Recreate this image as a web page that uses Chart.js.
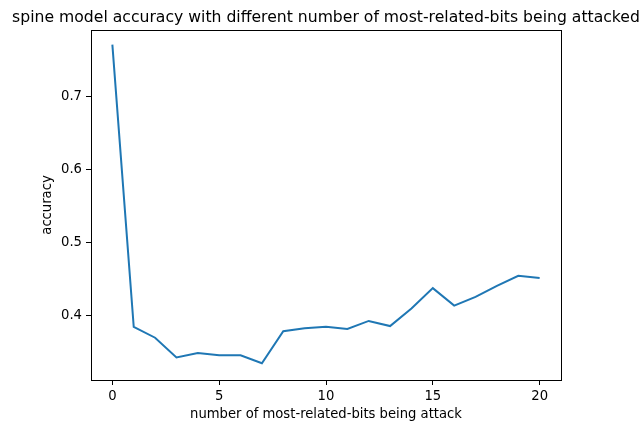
<!DOCTYPE html>
<html>
<head>
<meta charset="utf-8">
<script src="https://cdn.jsdelivr.net/npm/chart.js@4/dist/chart.umd.min.js"></script>
<style>
  html, body { margin: 0; padding: 0; background: #fff; }
  #wrap { width: 643px; height: 424px; position: relative; }
</style>
</head>
<body>
<div id="wrap"><canvas id="c" width="643" height="424"></canvas></div>
<script>
// number of most-related bits attacked
const bitsAttacked = [0, 1, 2, 3, 4, 5, 6, 7, 8, 9, 10, 11, 12, 13, 14, 15, 16, 17, 18, 19, 20];
// model accuracy for each attack size
const accuracy = [0.771, 0.384, 0.369, 0.342, 0.348, 0.345, 0.345, 0.334, 0.378, 0.382, 0.384,
                  0.381, 0.392, 0.385, 0.409, 0.437, 0.413, 0.425, 0.440, 0.454, 0.451];
const yTickValues = [0.4, 0.5, 0.6, 0.7];
const xTickStep = 5;

const titleText = 'spine model accuracy with different number of most-related-bits being attacked';
const xTitleText = 'number of most-related-bits being attack';
const yTitleText = 'accuracy';

const FONT = '"DejaVu Sans", sans-serif';

// sets a font size so the string spans the wanted width
function fitFont(ctx, text, width) {
  ctx.font = '20px ' + FONT;
  const w = ctx.measureText(text).width;
  ctx.font = (20 * width / w).toFixed(2) + 'px ' + FONT;
}

// frame around the plot area plus the title and axis captions
const decorations = {
  id: 'decorations',
  afterDraw(chart) {
    const { ctx, chartArea: a } = chart;
    ctx.save();
    ctx.strokeStyle = '#000';
    ctx.lineWidth = 1;
    ctx.strokeRect(Math.round(a.left) + 0.5, Math.round(a.top) + 0.5,
                   Math.round(a.right - a.left), Math.round(a.bottom - a.top));
    const cx = (a.left + a.right) / 2;
    ctx.fillStyle = '#000';
    ctx.textAlign = 'center';
    ctx.textBaseline = 'alphabetic';
    fitFont(ctx, titleText, 628);
    ctx.fillText(titleText, cx, 21.5);
    fitFont(ctx, xTitleText, 272);
    ctx.fillText(xTitleText, cx, 418);
    ctx.translate(50.5, (a.top + a.bottom) / 2);
    ctx.rotate(-Math.PI / 2);
    ctx.fillText(yTitleText, 0, 0);
    ctx.restore();
  }
};

new Chart(document.getElementById('c'), {
  type: 'line',
  data: {
    datasets: [{
      data: bitsAttacked.map((b, i) => ({ x: b, y: accuracy[i] })),
      borderColor: '#1f77b4',
      borderWidth: 2,
      pointRadius: 0,
      tension: 0,
      fill: false
    }]
  },
  options: {
    responsive: false,
    animation: false,
    layout: { padding: { top: 30, right: 82, left: 0, bottom: 0 } },
    plugins: { legend: { display: false }, tooltip: { enabled: false } },
    scales: {
      x: {
        type: 'linear',
        min: -1,
        max: 21,
        ticks: { stepSize: xTickStep, color: '#000', padding: 4, font: { family: FONT, size: 13.2 } },
        grid: { drawOnChartArea: false, drawTicks: true, tickLength: 5, color: '#000' },
        border: { display: true, color: '#000', width: 1 },
        afterBuildTicks(scale) {
          const t = [];
          for (let v = 0; v <= 20; v += xTickStep) t.push({ value: v });
          scale.ticks = t;
        },
        afterFit(scale) { scale.height = 44; }
      },
      y: {
        type: 'linear',
        min: 0.311,
        max: 0.791,
        ticks: { color: '#000', padding: 4, font: { family: FONT, size: 13.2 },
                 callback: v => v.toFixed(1) },
        grid: { drawOnChartArea: false, drawTicks: true, tickLength: 5, color: '#000' },
        border: { display: true, color: '#000', width: 1 },
        afterBuildTicks(scale) { scale.ticks = yTickValues.map(v => ({ value: v })); },
        afterFit(scale) { scale.width = 91; }
      }
    }
  },
  plugins: [decorations]
});
</script>
</body>
</html>
